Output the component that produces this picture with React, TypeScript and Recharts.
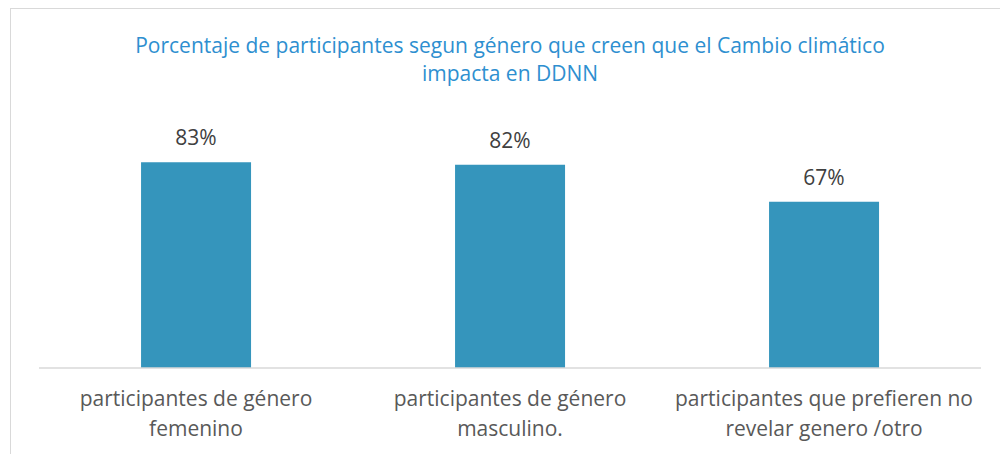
import React from "react";
import { BarChart, Bar, XAxis, YAxis, LabelList } from "recharts";

const categories = [
  "participantes de género femenino",
  "participantes de género masculino.",
  "participantes que prefieren no revelar genero /otro",
];
const tickLines = [
  ["participantes de género", "femenino"],
  ["participantes de género", "masculino."],
  ["participantes que prefieren no", "revelar genero /otro"],
];
const values = [83, 82, 67];
const titleLines = [
  "Porcentaje de participantes segun género que creen que el Cambio climático",
  "impacta en DDNN",
];

const data = categories.map((c, i) => ({ name: c, value: values[i], idx: i }));

const FONT = "'Open Sans', sans-serif";

const Tick = (props: any) => {
  const { x, y, index } = props;
  const lines = tickLines[index] || [];
  return (
    <g>
      {lines.map((l, i) => (
        <text
          key={i}
          x={x}
          y={y + 30 + i * 30}
          textAnchor="middle"
          fill="#595959"
          fontSize={21}
          fontFamily={FONT}
        >
          {l}
        </text>
      ))}
    </g>
  );
};

export default function App() {
  return (
    <div style={{ position: "absolute", left: 0, top: 0, width: 1000, height: 454, background: "#fff", overflow: "hidden" }}>
      <div
        style={{
          position: "absolute",
          left: 10,
          top: 8,
          width: 1000,
          height: 500,
          borderLeft: "1px solid #d9d9d9",
          borderTop: "1px solid #d9d9d9",
        }}
      />
      <BarChart
        width={1000}
        height={454}
        data={data}
        margin={{ top: 120, right: 19, left: 39, bottom: 0 }}
        barCategoryGap="32.5%"
        style={{ position: "absolute", left: 0, top: 0 }}
      >
        <text x={510} y={53} textAnchor="middle" fill="#2E8FD0" fontSize={21} fontFamily={FONT}>
          {titleLines[0]}
        </text>
        <text x={510} y={81} textAnchor="middle" fill="#2E8FD0" fontSize={21} fontFamily={FONT}>
          {titleLines[1]}
        </text>
        <XAxis
          dataKey="name"
          axisLine={{ stroke: "#d9d9d9", strokeWidth: 1.5 }}
          tickLine={false}
          height={86}
          interval={0}
          tick={<Tick />}
        />
        <YAxis hide domain={[0, 100]} />
        <Bar dataKey="value" fill="#3595BC" isAnimationActive={false}>
          <LabelList
            dataKey="value"
            position="top"
            offset={17}
            formatter={(v: any) => `${v}%`}
            fill="#404040"
            fontSize={21}
            fontFamily={FONT}
          />
        </Bar>
      </BarChart>
    </div>
  );
}
